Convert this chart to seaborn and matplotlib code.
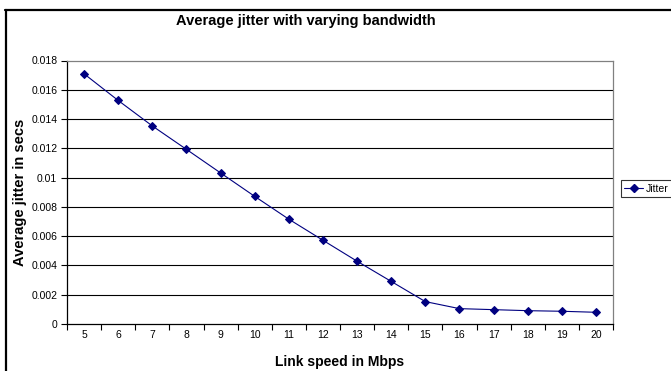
import matplotlib
matplotlib.use("Agg")
import matplotlib.pyplot as plt
import seaborn as sns
import pandas as pd
from matplotlib.lines import Line2D
from matplotlib.ticker import FixedLocator

speeds = [5, 6, 7, 8, 9, 10, 11, 12, 13, 14, 15, 16, 17, 18, 19, 20]
jitter = [0.01709, 0.01527, 0.01353, 0.01193, 0.01032, 0.00872, 0.00716, 0.00572,
          0.00429, 0.00291, 0.00153, 0.00105, 0.00098, 0.00091, 0.00087, 0.00080]
y_ticks = [0, 0.002, 0.004, 0.006, 0.008, 0.01, 0.012, 0.014, 0.016, 0.018]
y_labels = ["0", "0.002", "0.004", "0.006", "0.008", "0.01", "0.012", "0.014", "0.016", "0.018"]

df = pd.DataFrame({"pos": list(range(len(speeds))), "Jitter": jitter})

sns.set_style("white")
plt.rcParams["font.family"] = ["Liberation Sans", "DejaVu Sans"]
plt.rcParams["text.color"] = "black"
plt.rcParams["axes.labelcolor"] = "black"
plt.rcParams["xtick.color"] = "black"
plt.rcParams["ytick.color"] = "black"

W, H = 671, 371
fig = plt.figure(figsize=(W / 100, H / 100), dpi=100)
fig.patch.set_facecolor("white")
ax = fig.add_axes([67 / W, 1 - 324 / H, (613 - 67) / W, (324 - 60.5) / H])

navy = "#000080"
sns.lineplot(data=df, x="pos", y="Jitter", ax=ax, color=navy, linewidth=0.8,
             marker="D", markersize=3.6, markeredgecolor=navy, markerfacecolor=navy,
             legend=False)

ax.set_xlim(-0.5, len(speeds) - 0.5)
ax.set_ylim(0, 0.018)
ax.set_yticks(y_ticks)
ax.set_yticklabels(y_labels, fontsize=7.5)
ax.set_xticks(range(len(speeds)))
ax.set_xticklabels([str(s) for s in speeds], fontsize=7.5)
ax.xaxis.set_minor_locator(FixedLocator([i - 0.5 for i in range(len(speeds) + 1)]))
ax.tick_params(axis="x", which="major", length=0, pad=4)
ax.tick_params(axis="x", which="minor", length=4, width=0.8, color="black", direction="out", bottom=True)
ax.tick_params(axis="y", which="major", length=4, width=0.8, color="black", direction="out", left=True, pad=3)

for y in y_ticks[1:-1]:
    ax.axhline(y, color="black", linewidth=0.8, zorder=0)

for side in ["left", "bottom"]:
    ax.spines[side].set_color("black")
    ax.spines[side].set_linewidth(0.9)
for side in ["top", "right"]:
    ax.spines[side].set_color("#808080")
    ax.spines[side].set_linewidth(0.9)

ax.set_xlabel("Link speed in Mbps", fontsize=10, fontweight="bold", labelpad=11)
ax.set_ylabel("Average jitter in secs", fontsize=10.5, fontweight="bold", labelpad=3)
fig.text(306 / W, 1 - 25 / H, "Average jitter with varying bandwidth", ha="center", va="baseline",
         fontsize=10.5, fontweight="bold")

handle = Line2D([], [], color=navy, linewidth=0.8, marker="D", markersize=3.6)
leg = fig.legend([handle], ["Jitter"], loc="center left",
                 bbox_to_anchor=(621 / W, 1 - 188.5 / H), fontsize=7.5, frameon=True,
                 fancybox=False, borderpad=0.3, handlelength=1.8, handletextpad=0.3,
                 borderaxespad=0)
leg.get_frame().set_edgecolor("black")
leg.get_frame().set_linewidth(0.8)

# outer chart border (left and top visible)
fig.add_artist(Line2D([6 / W, 6 / W], [0, 1 - 9.5 / H], transform=fig.transFigure,
                      color="black", linewidth=1.6))
fig.add_artist(Line2D([5.2 / W, 1], [1 - 10 / H, 1 - 10 / H], transform=fig.transFigure,
                      color="black", linewidth=1.6))

fig.savefig("out.png", dpi=100)
